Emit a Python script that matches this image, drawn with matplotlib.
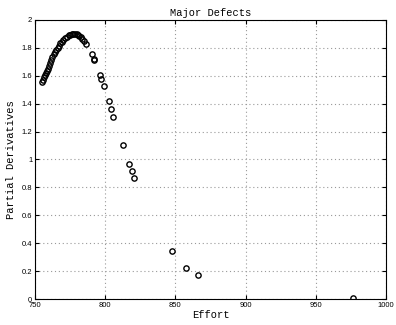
import matplotlib
matplotlib.use("Agg")
from matplotlib import pyplot as plt

# Data
effort = [755.2, 755.8, 756.5, 757.1, 757.8, 758.4, 759.0, 759.8, 760.7, 761.5,
          762.3, 763.2, 764.2, 765.1, 766.1, 767.0, 768.0, 769.1, 770.2, 771.4,
          772.6, 774.0, 775.0, 776.2, 777.4, 778.5, 779.6, 780.5, 781.3, 782.5,
          783.7, 784.9, 786.3, 790.3, 791.8, 792.2, 796.2, 797.3, 798.8, 802.6,
          804.3, 805.9, 812.5, 816.9, 818.8, 820.7, 847.6, 857.5, 866.0, 976.5]
partial = [1.555, 1.572, 1.588, 1.603, 1.620, 1.633, 1.650, 1.668, 1.690, 1.712,
           1.735, 1.755, 1.773, 1.787, 1.800, 1.817, 1.833, 1.845, 1.857, 1.870,
           1.880, 1.890, 1.895, 1.899, 1.900, 1.899, 1.896, 1.891, 1.885, 1.875,
           1.864, 1.848, 1.825, 1.756, 1.722, 1.714, 1.606, 1.580, 1.527, 1.420,
           1.360, 1.305, 1.105, 0.970, 0.920, 0.865, 0.345, 0.222, 0.170, 0.005]

xticks = [750, 800, 850, 900, 950, 1000]
yticks = [0, 0.2, 0.4, 0.6, 0.8, 1, 1.2, 1.4, 1.6, 1.8, 2]

fig = plt.figure(figsize=(3.96, 3.25), dpi=100)
ax = fig.add_axes([0.0884, 0.08, 0.8863, 0.8585])

ax.plot(effort, partial, 'o', mfc='none', mec='black', ms=3.8, mew=1.0)

ax.set_xlim(750, 1000)
ax.set_ylim(0, 2)
ax.set_xticks(xticks)
ax.set_yticks(yticks)
ax.set_xticklabels([str(t) for t in xticks])
ax.set_yticklabels(['0', '0.2', '0.4', '0.6', '0.8', '1', '1.2', '1.4', '1.6', '1.8', '2'])
ax.tick_params(direction='in', length=3, width=0.8, labelsize=5.5, pad=2,
               top=True, right=True)
for lab in ax.get_xticklabels() + ax.get_yticklabels():
    lab.set_family('Liberation Sans')

ax.grid(True, color='#999999', linestyle=(0, (1, 2.5)), lw=0.8)
for s in ax.spines.values():
    s.set_linewidth(0.8)

mono = 'Liberation Mono'
ax.set_title("Major Defects", family=mono, fontsize=7.5, pad=3)
ax.set_xlabel("Effort", family=mono, fontsize=7.5, labelpad=1)
ax.set_ylabel("Partial Derivatives", family=mono, fontsize=7.5, labelpad=4)

fig.savefig("out.png", dpi=100)
